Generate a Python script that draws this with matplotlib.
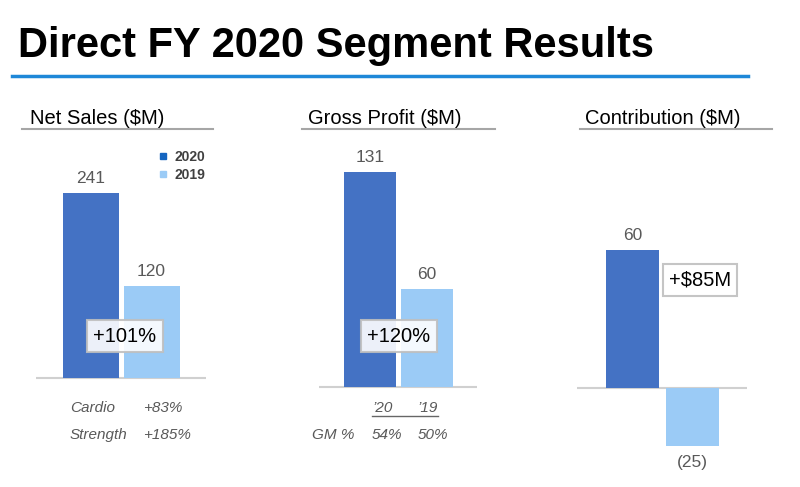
import matplotlib.pyplot as plt
from matplotlib.lines import Line2D

plt.rcParams['font.family'] = ['Liberation Sans', 'DejaVu Sans']

# data
years = ["2020", "2019"]
net_sales = [241, 120]
gross_profit = [131, 60]
contribution = [60, -25]
panel_titles = ["Net Sales ($M)", "Gross Profit ($M)", "Contribution ($M)"]
growth_labels = ["+101%", "+120%", "+$85M"]
segments = ["Cardio", "Strength"]
segment_growth = ["+83%", "+185%"]
gm_years = ["\u201920", "\u201919"]
gm_pct = ["54%", "50%"]

DARK = "#4472C4"
LIGHT = "#9BCBF6"
GRAY_TXT = "#595959"

W, H = 800, 487
fig = plt.figure(figsize=(8, 4.87), dpi=100)


def fx(x):
    return x / W


def fy(y):
    return 1 - y / H


# title and blue rule
fig.text(fx(18), fy(57), "Direct FY 2020 Segment Results", fontsize=30,
         fontweight="bold", color="black", va="baseline", ha="left")
fig.add_artist(Line2D([fx(12), fx(748)], [fy(76), fy(76)], color="#1E88D8", lw=2.5))

# panel layout in pixels: axis left/right, baseline, px per unit, bar centres, bar width
layout = [
    dict(left=36, right=206, base=378, scale=0.768, c=(91, 151.5), w=56,
         tx=30, ul=(22, 213)),
    dict(left=319, right=477, base=387, scale=1.64, c=(370, 427), w=52,
         tx=308, ul=(302, 495)),
    dict(left=577, right=747, base=388, scale=2.30, c=(632.5, 692), w=53,
         tx=585, ul=(580, 772)),
]
box_pos = [(125, 336), (399, 336), (700, 280)]
values = [net_sales, gross_profit, contribution]

top, bottom = 140, 475
for i, (L, vals) in enumerate(zip(layout, values)):
    ax = fig.add_axes([fx(L["left"]), fy(bottom), (L["right"] - L["left"]) / W,
                       (bottom - top) / H])
    sp = L["c"][1] - L["c"][0]
    ax.set_xlim((L["left"] - L["c"][0]) / sp, (L["right"] - L["c"][0]) / sp)
    ax.set_ylim(-(bottom - L["base"]) / L["scale"], (L["base"] - top) / L["scale"])
    ax.bar([0, 1], vals, width=L["w"] / sp, color=[DARK, LIGHT], zorder=2)
    ax.axhline(0, color="#D0D0D0", lw=1.5, zorder=1)
    ax.axis("off")
    for x, v in zip([0, 1], vals):
        if v >= 0:
            ax.annotate(str(v), (x, v), xytext=(0, 7), textcoords="offset points",
                        ha="center", va="baseline", fontsize=12.5, color=GRAY_TXT)
        else:
            ax.annotate("(%d)" % abs(v), (x, v), xytext=(0, -7), textcoords="offset points",
                        ha="center", va="top", fontsize=12.5, color=GRAY_TXT)

    # panel heading with grey underline
    fig.text(fx(L["tx"]), fy(118), panel_titles[i], fontsize=14.5, color="black",
             va="center", ha="left")
    fig.add_artist(Line2D([fx(L["ul"][0]), fx(L["ul"][1])], [fy(129), fy(129)],
                          color="#A6A6A6", lw=1.5))

    # growth call-out box
    bx, by = box_pos[i]
    fig.text(fx(bx), fy(by), growth_labels[i], fontsize=14.5, color="black",
             ha="center", va="center", zorder=5,
             bbox=dict(boxstyle="square,pad=0.3", facecolor="white", alpha=0.9,
                       edgecolor="#BFBFBF", lw=1.5))

    if i == 0:
        handles = [Line2D([], [], marker="s", ls="", markersize=4, color=c)
                   for c in ["#1565C0", LIGHT]]
        leg = ax.legend(handles, years, loc="upper left", frameon=False,
                        bbox_to_anchor=(fx(152), fy(143)), bbox_transform=fig.transFigure,
                        handlelength=0.6, handletextpad=0.5, labelspacing=0.3,
                        prop=dict(size=10, weight="bold"), borderpad=0)
        for t in leg.get_texts():
            t.set_color("#404040")

# segment growth under net sales
for j, (s, g) in enumerate(zip(segments, segment_growth)):
    yy = 408 + j * 27
    fig.text(fx(70), fy(yy), s, fontsize=11, style="italic", color=GRAY_TXT,
             ha="left", va="center")
    fig.text(fx(143), fy(yy), g, fontsize=11, style="italic", color=GRAY_TXT,
             ha="left", va="center")

# gross margin table under gross profit
for x, t in zip([383, 428], gm_years):
    fig.text(fx(x), fy(408), t, fontsize=11, style="italic", color=GRAY_TXT,
             ha="center", va="center")
fig.add_artist(Line2D([fx(372), fx(438)], [fy(416), fy(416)], color="#666666", lw=1))
fig.text(fx(333), fy(435), "GM %", fontsize=11, style="italic", color=GRAY_TXT,
         ha="center", va="center")
for x, t in zip([387, 433], gm_pct):
    fig.text(fx(x), fy(435), t, fontsize=11, style="italic", color=GRAY_TXT,
             ha="center", va="center")

fig.savefig("out.png", dpi=100, facecolor="white")
